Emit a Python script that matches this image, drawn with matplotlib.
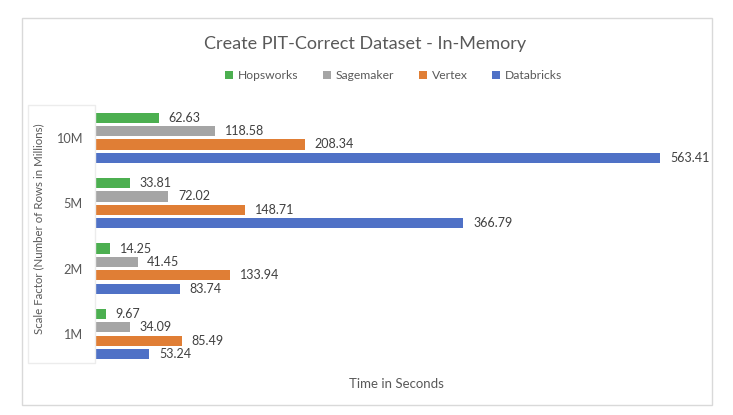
'''
PIT-correct dataset creation time, in-memory
'''
import numpy as np
import matplotlib.pyplot as plt
from matplotlib.patches import Rectangle

plt.rcParams['font.family'] = ['Lato', 'DejaVu Sans']

scale_factors = ['1M', '2M', '5M', '10M']
hopsworks = [9.67, 14.25, 33.81, 62.63]
sagemaker = [34.09, 41.45, 72.02, 118.58]
vertex = [85.49, 133.94, 148.71, 208.34]
databricks = [53.24, 83.74, 366.79, 563.41]

series = [('Hopsworks', hopsworks, '#4CAF50'),
          ('Sagemaker', sagemaker, '#A5A5A5'),
          ('Vertex', vertex, '#E07E35'),
          ('Databricks', databricks, '#4F71C6')]

fig = plt.figure(figsize=(7.33, 4.15), dpi=100)
ax = fig.add_axes([0.131, 0.116, 0.82, 0.631])

y = np.arange(len(scale_factors))
step = 0.205
height = 0.155
for k, (name, vals, color) in enumerate(series):
    pos = y + (1.5 - k) * step
    bars = ax.barh(pos, vals, height=height, color=color, label=name)
    ax.bar_label(bars, labels=['%.2f' % v for v in vals], padding=7,
                 fontsize=9, color='#404040')

ax.set_xlim(0, 600)
ax.set_ylim(-0.5, len(scale_factors) - 0.5)
ax.set_yticks(y, scale_factors)
ax.set_xticks([])
ax.tick_params(axis='y', length=0, pad=10, labelsize=9.2, labelcolor='#595959')
for s in ax.spines.values():
    s.set_visible(False)

ax.set_xlabel('Time in Seconds', fontsize=9.5, color='#595959', labelpad=8)
fig.text(0.053, 0.45, 'Scale Factor (Number of Rows in Millions)', rotation=90,
         ha='center', va='center', fontsize=8.3, color='#595959')

fig.text(0.498, 0.893, 'Create PIT-Correct Dataset - In-Memory', ha='center',
         va='center', fontsize=13, color='#595959')
fig.legend(loc='center', bbox_to_anchor=(0.537, 0.817), ncol=4, frameon=False,
           handlelength=0.7, handleheight=0.7, handletextpad=0.4,
           columnspacing=2.0, fontsize=8.7, labelcolor='#595959')

# chart border and the box behind the axis title
fig.patches.append(Rectangle((22 / 733, 10 / 415), 690 / 733, 387 / 415,
                             transform=fig.transFigure, fill=False,
                             edgecolor='#d9d9d9', linewidth=1))
fig.patches.append(Rectangle((28 / 733, 52 / 415), 67 / 733, 258 / 415,
                             transform=fig.transFigure, fill=False,
                             edgecolor='#ececec', linewidth=1))

fig.savefig('out.png', dpi=100)
